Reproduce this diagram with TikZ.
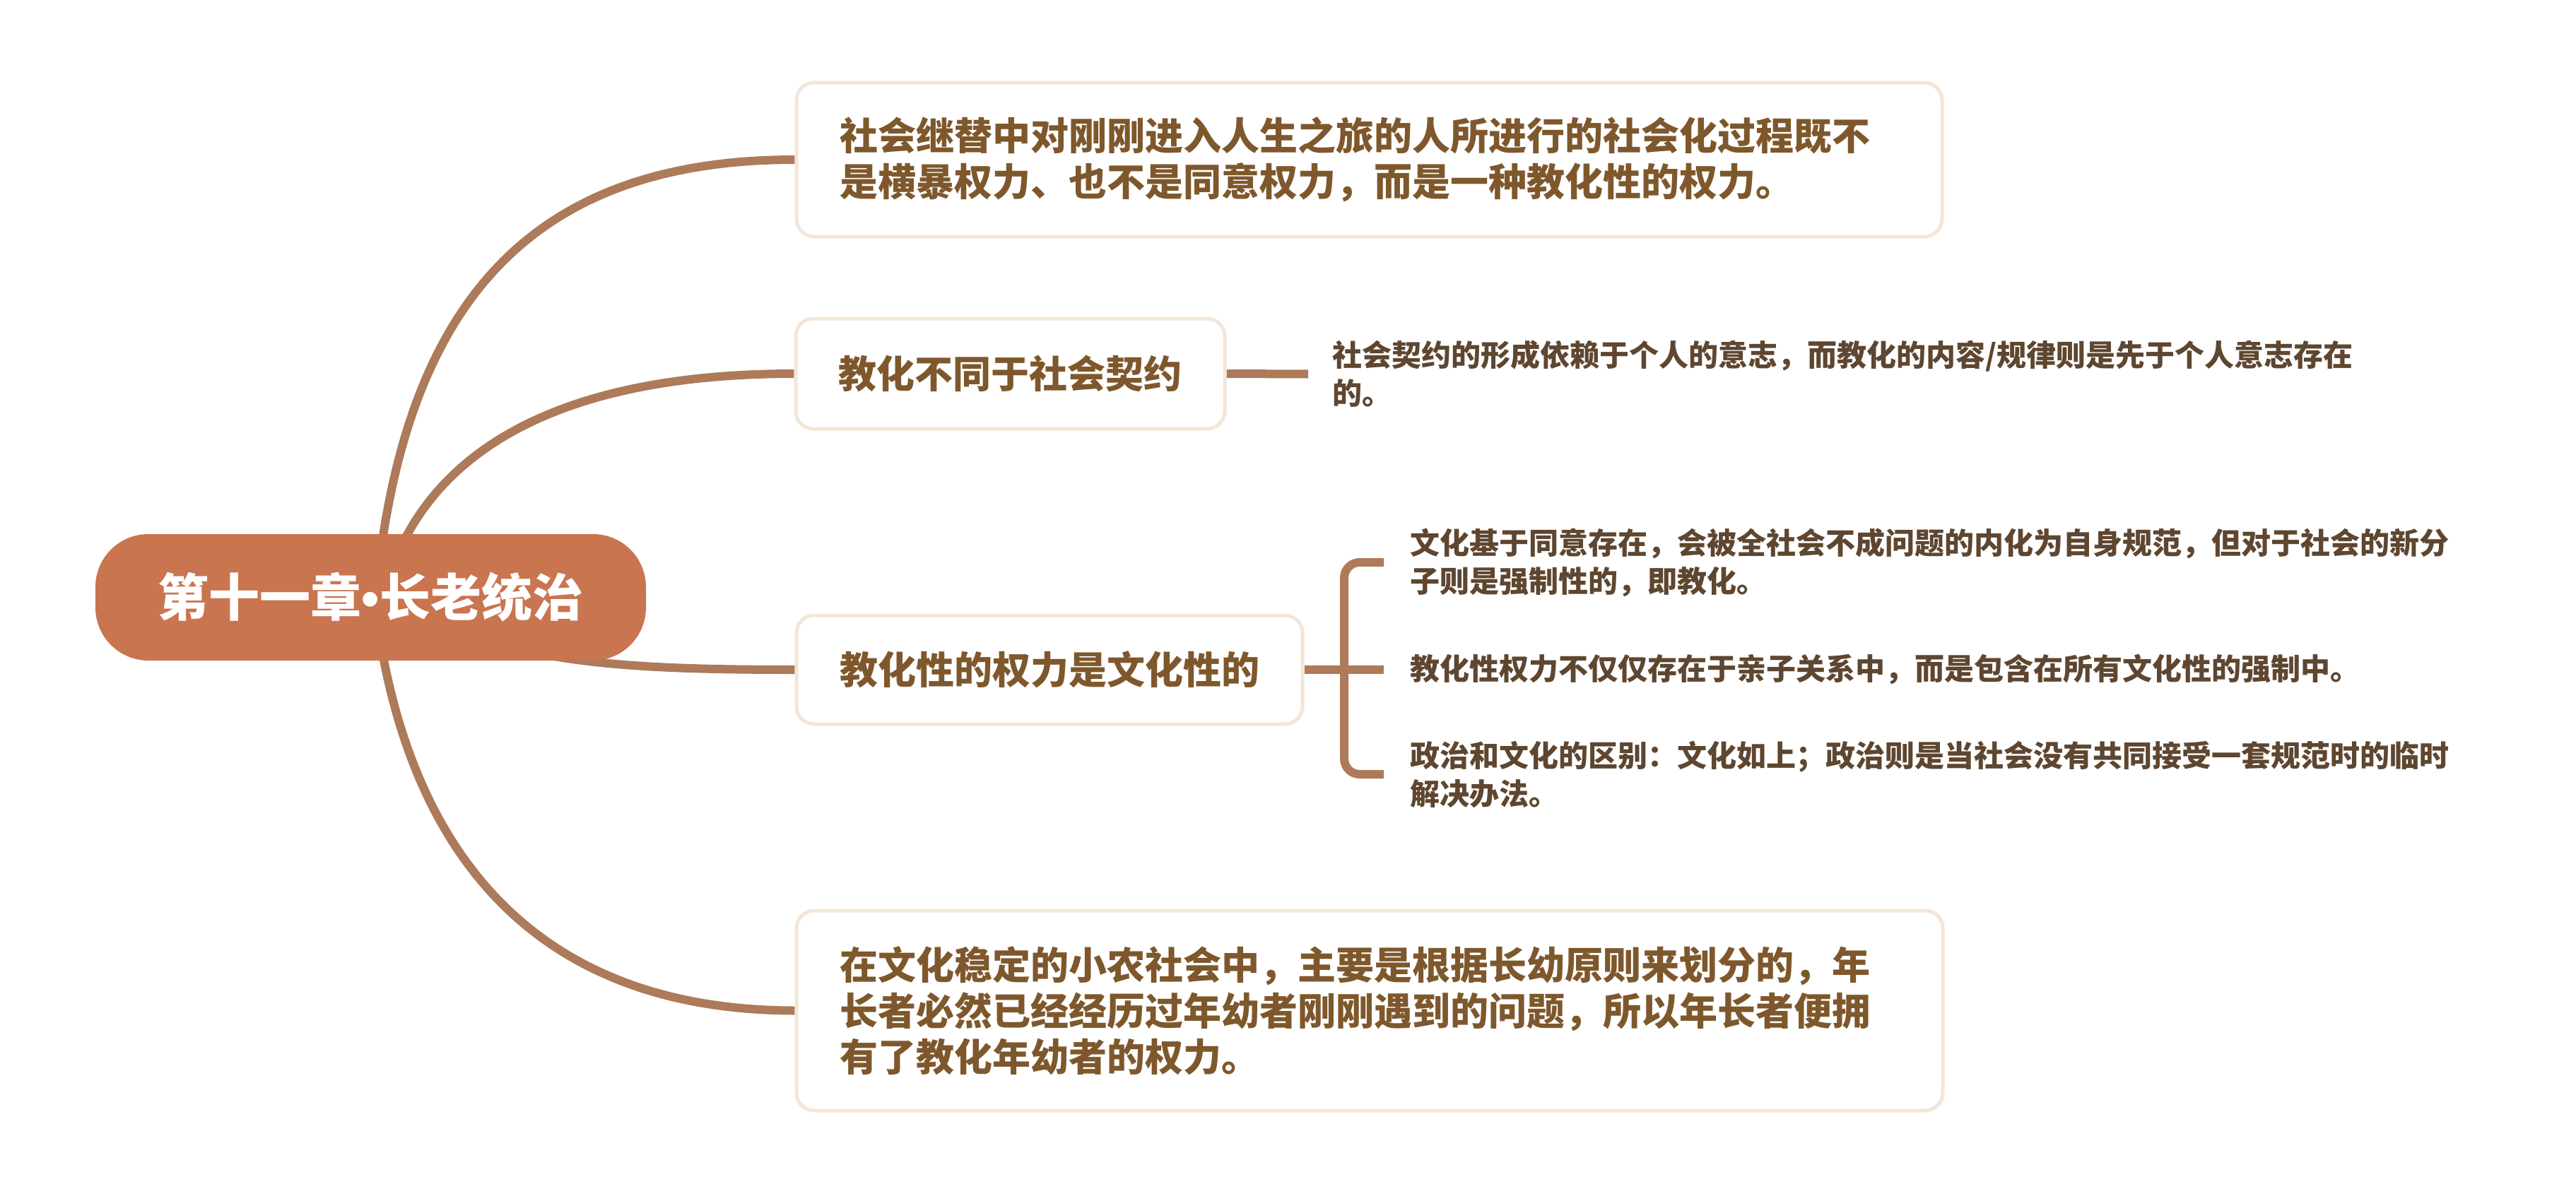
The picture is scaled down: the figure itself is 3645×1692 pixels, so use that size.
\documentclass[tikz,border=0pt]{standalone}
\usepackage{fontspec}
\setmainfont{Noto Sans CJK SC}
\newfontfamily\bulletfont{Liberation Sans}
\usetikzlibrary{calc,backgrounds}
\definecolor{centerfill}{HTML}{C97550}
\definecolor{linkc}{HTML}{AD7A5A}
\definecolor{boxborder}{HTML}{F4E6D7}
\definecolor{boxtext}{HTML}{7E582C}
\definecolor{leaftext}{HTML}{5E4630}
\begin{document}
\begin{tikzpicture}[x=1pt,y=-1pt,
  conn/.style={draw=linkc, line width=12pt},
  mainbox/.style={draw=boxborder, line width=5pt, rounded corners=25pt, fill=white, inner sep=0pt, align=left, font=\fontsize{54pt}{65pt}\selectfont\bfseries, text=boxtext},
  leaf/.style={inner sep=0pt, anchor=west, align=left, font=\fontsize{42pt}{54pt}\selectfont\bfseries, text=leaftext},
  central/.style={fill=centerfill, rounded corners=75pt, minimum width=779pt, minimum height=179pt, inner sep=0pt, text=white, font=\fontsize{72pt}{86pt}\selectfont\bfseries}
]
\useasboundingbox (0,0) rectangle (3645,1692);

\node[central] (c) at (524.5,845.5) {第十一章{\bulletfont\bfseries •}长老统治};

\node[mainbox, text width=1499pt, minimum width=1621pt, minimum height=218pt] (b1) at (1937.5,226)
  {社会继替中对刚刚进入人生之旅的人所进行的社会化过程既不\\是横暴权力、也不是同意权力，而是一种教化性的权力。};
\node[mainbox, minimum width=607pt, minimum height=156pt] (b2) at (1429.5,529) {教化不同于社会契约};
\node[mainbox, minimum width=716pt, minimum height=154pt] (b3) at (1485,948) {教化性的权力是文化性的};
\node[mainbox, text width=1500pt, minimum width=1622pt, minimum height=283pt] (b4) at (1938,1430.5)
  {在文化稳定的小农社会中，主要是根据长幼原则来划分的，年\\长者必然已经经历过年幼者刚刚遇到的问题，所以年长者便拥\\有了教化年幼者的权力。};

\node[leaf] (l0) at (1885,529.5) {社会契约的形成依赖于个人的意志，而教化的内容/规律则是先于个人意志存在\\的。};
\node[leaf] (l1) at (1995,796) {文化基于同意存在，会被全社会不成问题的内化为自身规范，但对于社会的新分\\子则是强制性的，即教化。};
\node[leaf] (l2) at (1995,948) {教化性权力不仅仅存在于亲子关系中，而是包含在所有文化性的强制中。};
\node[leaf] (l3) at (1995,1096) {政治和文化的区别：文化如上；政治则是当社会没有共同接受一套规范时的临时\\解决办法。};

\begin{scope}[on background layer]
\fill[white] (0,0) rectangle (3645,1692);
\draw[conn] ($(c.north)+(15,20)$) .. controls (590,420) and (760,226) .. (b1.west);
\draw[conn] ($(c.north)+(42,20)$) .. controls (640,620) and (820,529) .. (b2.west);
\draw[conn] ($(c.center)+(35,0)$) .. controls (700,935) and (850,948) .. (b3.west);
\draw[conn] ($(c.south)+(15,-20)$) .. controls (590,1200) and (750,1430) .. (b4.west);
\draw[conn] (b2.east) -- ($(l0.west)+(-34,0)$);
\draw[conn] (b3.east) -- ($(l2.west)+(-37,0)$);
\draw[conn, rounded corners=22pt] ($(l1.west)+(-37,0)$) -- ($(l1.west)+(-93,0)$) -- ($(l3.west)+(-93,0)$) -- ($(l3.west)+(-37,0)$);
\end{scope}
\end{tikzpicture}
\end{document}
